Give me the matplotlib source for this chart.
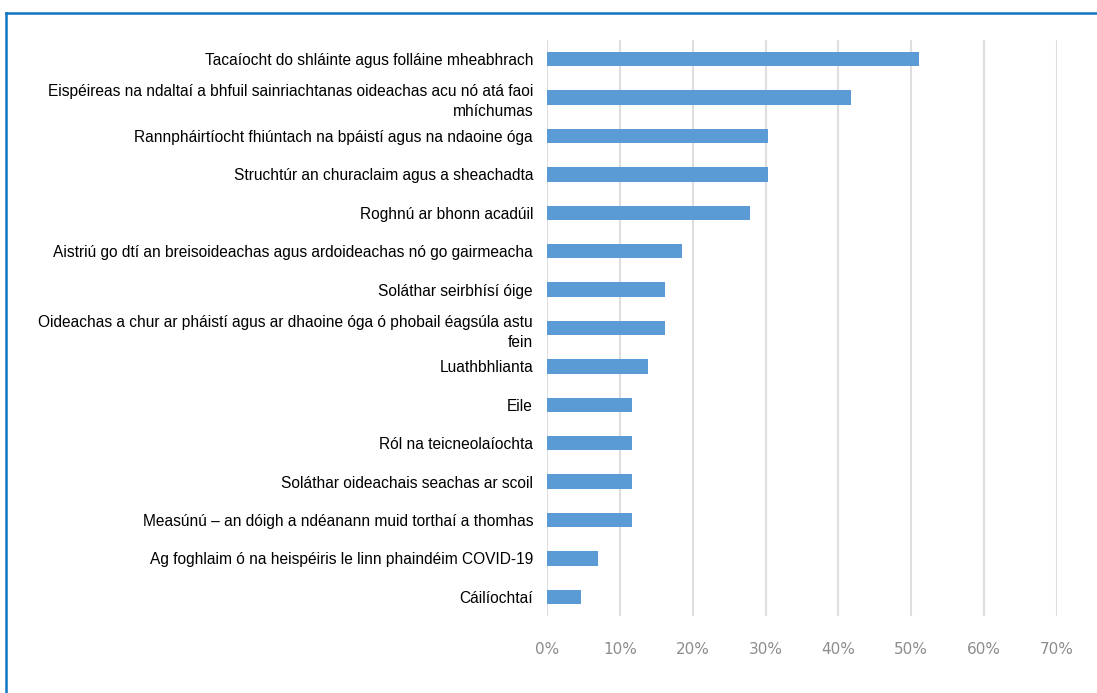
import matplotlib.pyplot as plt
from matplotlib.lines import Line2D

categories = [
    "Tacaíocht do shláinte agus folláine mheabhrach",
    "Eispéireas na ndaltaí a bhfuil sainriachtanas oideachas acu nó atá faoi\nmhíchumas",
    "Rannpháirtíocht fhiúntach na bpáistí agus na ndaoine óga",
    "Struchtúr an churaclaim agus a sheachadta",
    "Roghnú ar bhonn acadúil",
    "Aistriú go dtí an breisoideachas agus ardoideachas nó go gairmeacha",
    "Soláthar seirbhísí óige",
    "Oideachas a chur ar pháistí agus ar dhaoine óga ó phobail éagsúla astu\nfein",
    "Luathbhlianta",
    "Eile",
    "Ról na teicneolaíochta",
    "Soláthar oideachais seachas ar scoil",
    "Measúnú – an dóigh a ndéanann muid torthaí a thomhas",
    "Ag foghlaim ó na heispéiris le linn phaindéim COVID-19",
    "Cáilíochtaí",
]
values = [0.51, 0.417, 0.303, 0.303, 0.278, 0.185, 0.162, 0.162, 0.139,
          0.117, 0.117, 0.117, 0.117, 0.07, 0.047]
xticks = [0, 0.1, 0.2, 0.3, 0.4, 0.5, 0.6, 0.7]
xtick_labels = ["0%", "10%", "20%", "30%", "40%", "50%", "60%", "70%"]

fig = plt.figure(figsize=(10.97, 6.93), dpi=100, facecolor="white")
ax = fig.add_axes([547 / 1097, 1 - 616 / 693, 510 / 1097, 576 / 693])

y = list(range(len(categories)))
ax.barh(y, values, height=0.37, color="#5b9bd5", zorder=3)
ax.set_ylim(len(categories) - 0.5, -0.5)
ax.set_xlim(0, 0.7)

ax.set_yticks(y)
ax.set_yticklabels(categories, fontsize=11.2, family="Liberation Sans", color="black")
for lbl in ax.get_yticklabels():
    lbl.set_linespacing(1.45)
ax.tick_params(axis="y", length=0, pad=10)
ax.set_xticks(xticks)
ax.set_xticklabels(xtick_labels, fontsize=11, color="#8c8c8c", family="DejaVu Sans")
ax.tick_params(axis="x", length=0, pad=19)

ax.grid(axis="x", color="#dedede", linewidth=1.5, zorder=0)
for spine in ax.spines.values():
    spine.set_visible(False)

# blue frame on top and left
fig.add_artist(Line2D([6 / 1097, 6 / 1097], [0, 1 - 13 / 693], color="#0f75c3",
                      linewidth=1.8, transform=fig.transFigure))
fig.add_artist(Line2D([6 / 1097, 1], [1 - 13 / 693, 1 - 13 / 693], color="#0f75c3",
                      linewidth=1.8, transform=fig.transFigure))

fig.savefig("out.png", dpi=100, facecolor="white")
